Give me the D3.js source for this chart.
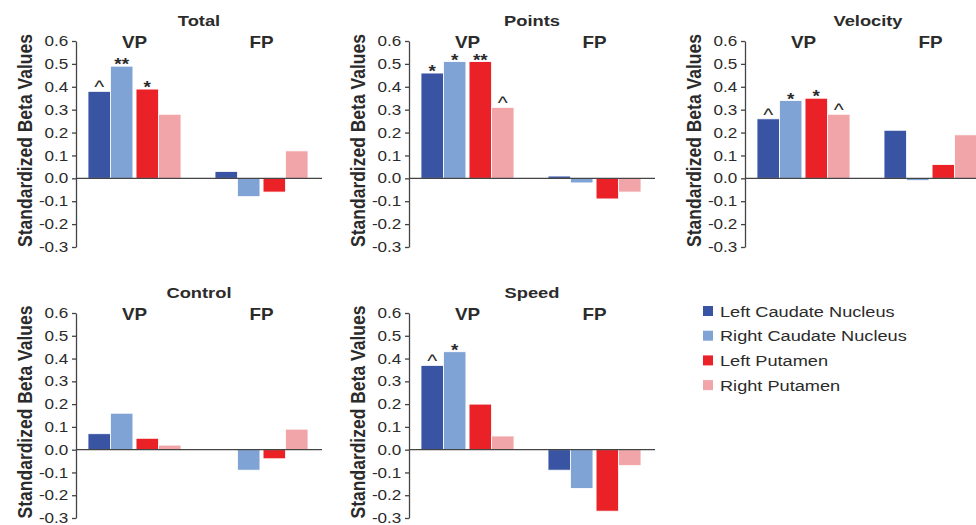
<!DOCTYPE html>
<html>
<head>
<meta charset="utf-8">
<script src="https://cdn.jsdelivr.net/npm/d3@7"></script>
<style>
  body { margin: 0; background: #fff; }
  text { font-family: "Liberation Sans", Arial, sans-serif; fill: #2b2b2b; }
</style>
</head>
<body>
<script>
var svgWidth = 976;
var svgHeight = 525;
var stretch = 1.18; // the figure text is a bit wide

var groups = ["VP", "FP"];
var regions = ["Left Caudate Nucleus", "Right Caudate Nucleus", "Left Putamen", "Right Putamen"];
var colors = ["#3a54a4", "#80a3d6", "#ea2228", "#f1a5a8"];
var tickValues = [-0.3, -0.2, -0.1, 0.0, 0.1, 0.2, 0.3, 0.4, 0.5, 0.6];

var totalVP = [0.38, 0.49, 0.39, 0.28];
var totalFP = [0.03, -0.08, -0.06, 0.12];
var totalMarks = ["^", "**", "*", ""];

var pointsVP = [0.46, 0.51, 0.51, 0.31];
var pointsFP = [0.01, -0.02, -0.09, -0.06];
var pointsMarks = ["*", "*", "**", "^"];

var velocityVP = [0.26, 0.34, 0.35, 0.28];
var velocityFP = [0.21, -0.01, 0.06, 0.19];
var velocityMarks = ["^", "*", "*", "^"];

var controlVP = [0.07, 0.16, 0.05, 0.02];
var controlFP = [0.00, -0.09, -0.04, 0.09];
var controlMarks = ["", "", "", ""];

var speedVP = [0.37, 0.43, 0.20, 0.06];
var speedFP = [-0.09, -0.17, -0.27, -0.07];
var speedMarks = ["^", "*", "", ""];

var panels = [
  { title: "Total", vp: totalVP, fp: totalFP, marks: totalMarks, x: 76, top: 41, bottom: 247 },
  { title: "Points", vp: pointsVP, fp: pointsFP, marks: pointsMarks, x: 409, top: 41, bottom: 247 },
  { title: "Velocity", vp: velocityVP, fp: velocityFP, marks: velocityMarks, x: 745, top: 41, bottom: 247 },
  { title: "Control", vp: controlVP, fp: controlFP, marks: controlMarks, x: 76, top: 313, bottom: 518 },
  { title: "Speed", vp: speedVP, fp: speedFP, marks: speedMarks, x: 409, top: 313, bottom: 518 }
];

var svg = d3.select("body")
  .append("svg")
  .attr("width", svgWidth)
  .attr("height", svgHeight);

var drawPanel = function(p) {
  var g = svg.append("g").attr("transform", "translate(" + p.x + ",0)");

  var y = d3.scaleLinear().domain([-0.3, 0.6]).range([p.bottom, p.top]);
  var x0 = d3.scaleBand().domain(groups).range([12, 232]).paddingInner(0.268);
  var xPair = d3.scaleBand().domain([0, 1]).range([0, x0.bandwidth()]).paddingInner(0.065);
  var xSide = d3.scaleBand().domain([0, 1]).range([0, xPair.bandwidth()]);

  var data = [];
  groups.forEach(function(grp) {
    var vals = grp === "VP" ? p.vp : p.fp;
    vals.forEach(function(v, i) {
      data.push({ group: grp, i: i, value: v, mark: grp === "VP" ? p.marks[i] : "" });
    });
  });
  var barX = function(d) { return x0(d.group) + xPair(Math.floor(d.i / 2)) + xSide(d.i % 2); };

  g.selectAll(".bar").data(data)
    .enter().append("rect")
    .attr("class", "bar")
    .attr("x", barX)
    .attr("width", xSide.bandwidth())
    .attr("y", function(d) { return y(Math.max(0, d.value)); })
    .attr("height", function(d) { return Math.abs(y(d.value) - y(0)); })
    .attr("fill", function(d) { return colors[d.i]; })
    .attr("stroke", "#fff")
    .attr("stroke-width", 0.8);

  // significance marks
  g.selectAll(".mark").data(data.filter(function(d) { return d.mark; }))
    .enter().append("text")
    .attr("class", "mark")
    .attr("transform", function(d) {
      var off = d.mark.indexOf("^") >= 0 ? 2 : 4;
      return "translate(" + (barX(d) + xSide.bandwidth() / 2) + "," + (y(d.value) + off) + ") scale(" + stretch + ",1)";
    })
    .attr("text-anchor", "middle")
    .style("font-size", function(d) { return d.mark === "^" ? "18px" : "16px"; })
    .style("font-weight", function(d) { return d.mark === "^" ? "normal" : "bold"; })
    .text(function(d) { return d.mark; });

  // zero line
  g.append("line")
    .attr("x1", 0).attr("x2", 246)
    .attr("y1", y(0)).attr("y2", y(0))
    .attr("stroke", "#444")
    .attr("stroke-width", 1.3);

  var axis = g.append("g")
    .call(d3.axisLeft(y).tickValues(tickValues)
      .tickFormat(function(d) { return d.toFixed(1); })
      .tickSize(4).tickSizeOuter(0));
  axis.selectAll("path, line").attr("stroke", "#444").attr("stroke-width", 1.3);
  axis.selectAll("text")
    .attr("x", -6.5)
    .attr("transform", "scale(" + stretch + ",1)")
    .style("font-size", "14.5px")
    .style("font-family", "'Liberation Sans', Arial, sans-serif")
    .attr("fill", "#2b2b2b");

  g.append("text")
    .attr("transform", "translate(-44," + ((p.top + p.bottom) / 2 - 3.5) + ") scale(" + stretch + ",1) rotate(-90)")
    .attr("text-anchor", "middle")
    .style("font-size", "17.5px")
    .style("font-weight", "bold")
    .text("Standardized Beta Values");

  g.append("text")
    .attr("transform", "translate(123," + (p.top - 15) + ") scale(" + stretch + ",1)")
    .attr("text-anchor", "middle")
    .style("font-size", "15.5px")
    .style("font-weight", "bold")
    .text(p.title);

  g.selectAll(".grp").data(groups)
    .enter().append("text")
    .attr("class", "grp")
    .attr("transform", function(d) { return "translate(" + (x0(d) + x0.bandwidth() / 2) + "," + (p.top + 7) + ") scale(" + stretch + ",1)"; })
    .attr("text-anchor", "middle")
    .style("font-size", "16px")
    .style("font-weight", "bold")
    .text(function(d) { return d; });
};

panels.forEach(drawPanel);

// legend
var legend = svg.append("g").selectAll(".leg").data(regions)
  .enter().append("g")
  .attr("class", "leg")
  .attr("transform", function(d, i) { return "translate(703," + (311 + i * 24.7) + ")"; });
legend.append("rect")
  .attr("x", 0).attr("y", -5)
  .attr("width", 10).attr("height", 10)
  .attr("fill", function(d, i) { return colors[i]; });
legend.append("text")
  .attr("transform", "translate(17,5.5) scale(" + stretch + ",1)")
  .style("font-size", "15.4px")
  .text(function(d) { return d; });
</script>
</body>
</html>
